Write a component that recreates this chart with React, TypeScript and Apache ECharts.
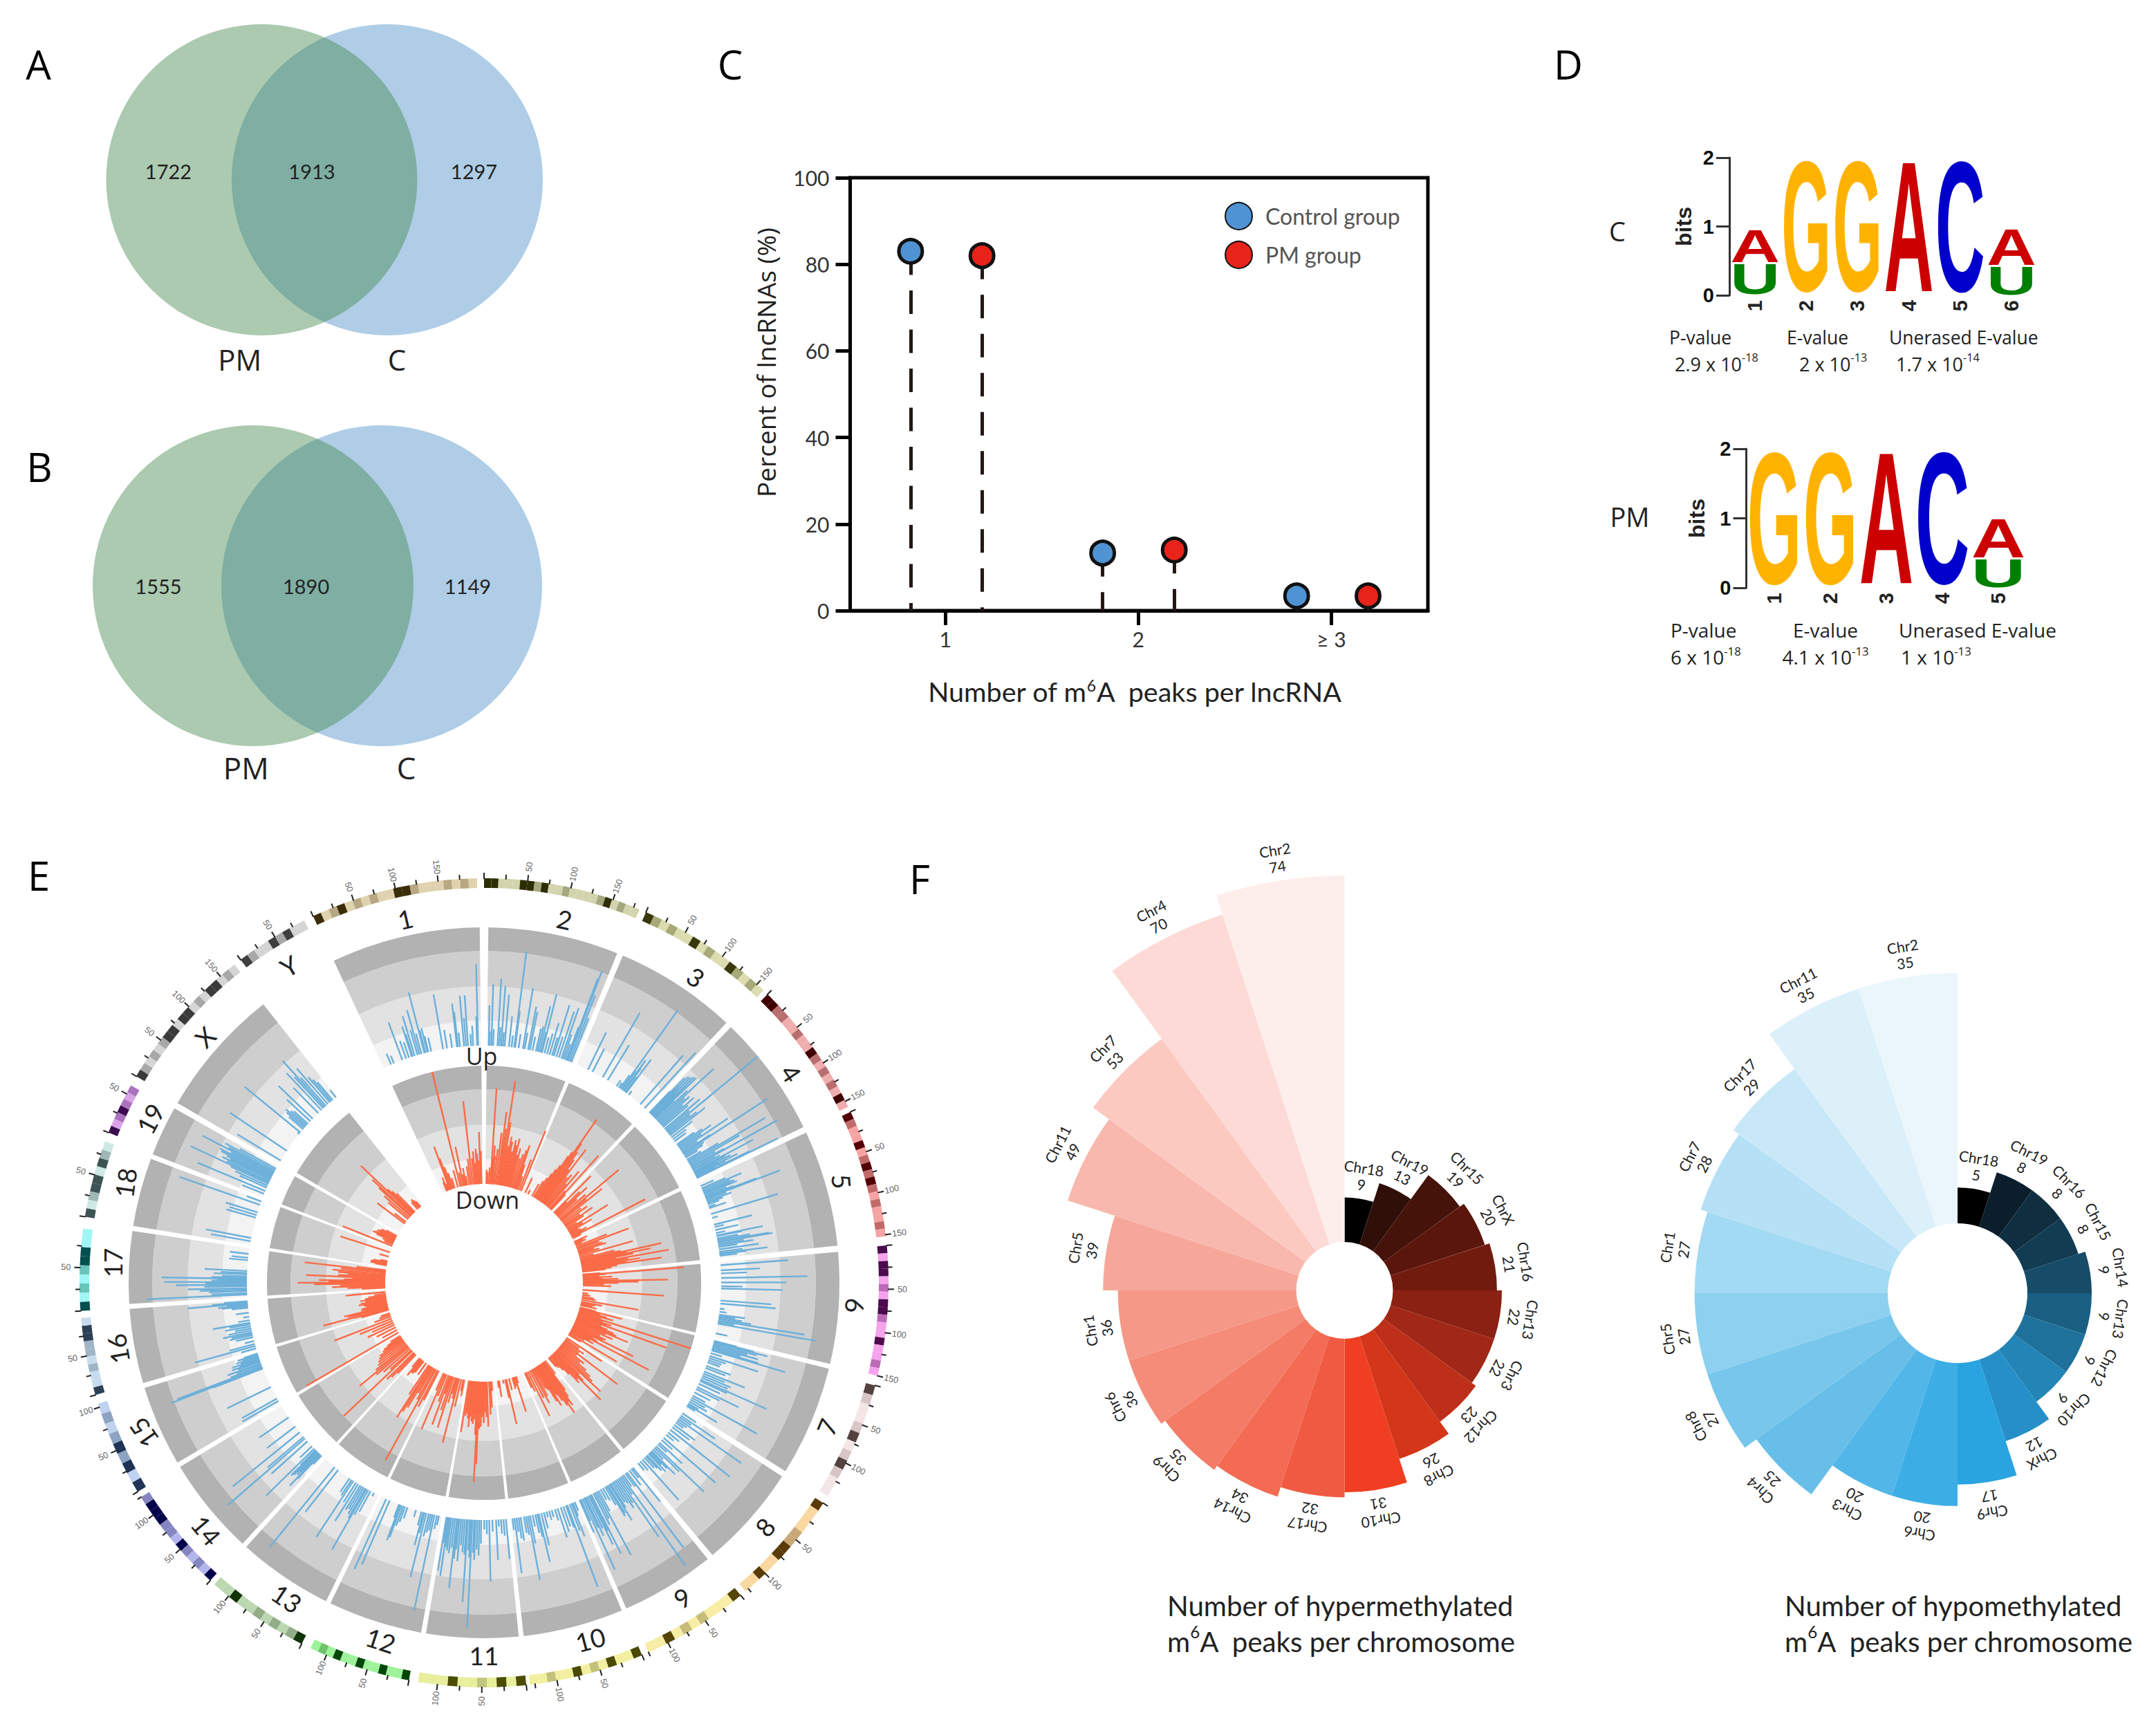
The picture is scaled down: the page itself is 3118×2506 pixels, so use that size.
import React, { useEffect, useRef } from "react";
import * as echarts from "echarts";

const RAD = Math.PI / 180;
const LATO = "Lato, Carlito, sans-serif";
const OPEN = '"Open Sans", sans-serif';
const LIB = '"Liberation Sans", Arial, sans-serif';

// ---------- Panels A, B
const vennALabels = ["1722", "1913", "1297"];
const vennBLabels = ["1555", "1890", "1149"];
const vennSets = ["PM", "C"];
const panelLetters = ["A", "B", "C", "D", "E", "F"];

// ---------- Panel C
const peakCategories = ["1", "2", "≥ 3"];
const controlX = [0.82, 1.815, 2.82];
const pmX = [1.19, 2.186, 3.19];
const controlPercent = [83, 13.3, 3.4];
const pmPercent = [82, 14, 3.4];

// ---------- Panel D
const logoCColumns = ["1", "2", "3", "4", "5", "6"];
const logoCLetters = ["U", "A", "G", "G", "A", "C", "U", "A"];
const logoCColumnOf = [0, 0, 1, 2, 3, 4, 5, 5];
const logoCBottom = [0, 0.47, 0, 0, 0, 0, 0, 0.42];
const logoCTop = [0.47, 0.97, 2, 2, 2, 2, 0.42, 0.97];
const logoPMColumns = ["1", "2", "3", "4", "5"];
const logoPMLetters = ["G", "G", "A", "C", "U", "A"];
const logoPMColumnOf = [0, 1, 2, 3, 4, 4];
const logoPMBottom = [0, 0, 0, 0, 0, 0.42];
const logoPMTop = [2, 2, 2, 2, 0.42, 1];

// ---------- Panel E
const trackNames = ["1","2","3","4","5","6","7","8","9","10","11","12","13","14","15","16","17","18","19","X"];
const trackStart = [335,0.7,23,44,65,85,104,123,141,157.2,174.4,190.2,206.4,222.8,239.6,253.6,266.6,279.2,291.2,300.4];
const trackEnd = [359.3,22,43,64,84,103.2,122,140,156.4,173.6,189.4,205.6,222,238.8,252.8,265.8,278.4,290.4,299.4,321.6];
const labelRotation = [-13,13,35,56,85,95,-67,-49,-32,-15,0,18,34,50,-125,-100,-90,-82,-62,-45,-30];
const labelAngle = [347.8,12.5,34.7,55.7,74.2,93.5,112.8,131,147.8,163.4,180,196.1,212,228.3,246.2,259.8,273.1,285.6,296.2,311.4,328.4];
const ideoNames = [...trackNames, "Y"];
const ideoStart = [335,0,23.6,44.5,65,84.7,104.7,123,140.6,157,174,190.7,206.8,222.6,238.9,253.9,266,279.4,291.8,300.7,323];
const ideoEnd = [359,22.6,43.7,64.2,83.4,103.3,121.8,139.7,156,173.5,189.4,205.4,221.8,238,252.6,265,277.7,290.5,299.2,321.9,333.6];
const chrLengthMb = [195,182,160,157,152,150,145,129,125,131,122,120,121,125,104,98,95,91,61,171,91];
const ideoLight = ["#e0d2ae","#d2d4ad","#dcdcb0","#f0adad","#f7a3a3","#f5a3ec","#f5e6e6","#f8d7a0","#f7eda5","#f2f0a0","#e8ee9c","#9ef29a","#bcd8b0","#b5b5ee","#bfd3f0","#c6dcee","#a0f5f5","#cde9e6","#dba2e9","#d5d5d5","#d5d5d5"];
const ideoMid = ["#b7a883","#a5a77f","#a8a978","#b86e6e","#c26a6a","#bc6ab8","#d8c5c5","#c9a878","#c7bd7a","#c4c27a","#c1c77c","#6fc46b","#93ad88","#8585c0","#8da3c2","#9fb5c8","#68c4bc","#9fb8b5","#ab72be","#a8a8a8","#a8a8a8"];
const ideoDark = ["#3b2d08","#2e2e05","#38380a","#3f0000","#520006","#4d0a4d","#54423f","#5a3a05","#544505","#4a4a05","#4b4d04","#04460a","#0f3305","#04044a","#1f3355","#2c4055","#045050","#3d5454","#3b0a50","#3a3a3a","#3f3f3f"];
const ideoBands = [
  "dlmdlmlmllddmlllmlml","ddlllddmdllmllllmdlmll","dmlmlldlmlldmlml","ddmmllmlldmlmlmldl","dmlldlmdmdmlmllml","dlddlmlddmlldllml","dmllmdlmdmll",
  "dlllmmddlldll","dlllmlmldll","dlldlmldllmll","dldlmlldlll","dlldlldlldlml","dmlmlmlldll","dlmlmdlmmdddm","dldmdmlml","dllmlmmddl","dlmlmddll","dlmddldml","dlmdmlm","dmlmlmddlddlmlddlml","dmlldmdll",
];
const UP_BASE = "#6cb0da";
const DOWN_BASE = "#fb6b47";
const trackBandTop = [21, 50, 80, 100];
const trackBandColor = ["#f3f3f3", "#e2e2e2", "#cecece", "#b2b2b2"];

const upChr1 = [[8,10],[11,7],[20,34],[24,16],[27,14],[30,27],[31,20],[33,35],[36,22],[38,39],[40,18],[43,53],[44,20],[46,21],[47,14],[50,12],[62,47],[66,16],[71,12],[76,37],[77,30],[79,12],[83,43],[85,24],[87,43],[90,10],[92,17],[96,25],[97,69]];
const upChr2 = [[2,34],[3,12],[5,52],[7,14],[12,57],[14,16],[16,51],[18,12],[20,44],[25,26],[28,10],[31,82],[32,31],[36,12],[41,52],[43,14],[47,37],[49,33],[52,12],[56,20],[58,22],[60,40],[62,18],[63,51],[66,14],[69,18],[72,28],[75,16],[77,45],[80,18],[83,41],[86,45],[88,22],[90,14],[92,30],[93,74],[94,81],[96,60],[98,40]];
const upChr3 = [[15,35],[21,22],[35,63],[42,35],[55,6],[58,5],[60,14],[62,82],[63,20],[65,32],[66,24],[68,16],[69,35],[73,4],[91,55],[98,64]];
const upChr4 = [[1,25],[2,42],[3,30],[4,45],[5,32],[6,46],[7,28],[8,48],[9,38],[10,49],[11,22],[13,36],[15,65],[17,30],[19,34],[21,25],[23,36],[25,28],[28,39],[30,26],[32,100],[34,24],[36,30],[38,38],[41,22],[44,14],[47,12],[52,18],[54,25],[56,33],[58,22],[60,48],[62,16],[64,28],[65,85],[67,20],[69,18],[71,12],[74,14],[76,30],[78,75],[80,49],[82,24],[84,32],[85,83],[87,22],[88,26],[90,57],[91,30],[92,20],[93,34],[94,22],[95,40],[96,28],[97,18],[98,50],[99,76]];
const upChr5 = [[5,12],[8,22],[10,36],[12,25],[14,28],[15,24],[16,30],[18,20],[20,26],[21,46],[22,67],[24,18],[26,22],[28,14],[30,10],[33,6],[35,15],[43,59],[48,5],[57,33],[60,8],[64,20],[68,8],[71,40],[72,22],[75,18],[77,28],[79,44],[80,47],[82,22],[84,30],[86,16],[89,34],[92,20],[94,41],[95,23],[97,15]];
const upChr6 = [[4,57],[11,33],[15,22],[21,73],[27,55],[32,18],[35,52],[51,43],[55,47],[62,4],[66,6],[70,22],[72,14],[74,20],[76,28],[78,74],[80,14],[82,84],[95,10]];
const upChr7 = [[1,20],[2,35],[3,47],[5,38],[7,30],[9,40],[11,25],[13,41],[14,65],[18,10],[22,43],[25,15],[28,12],[31,11],[36,22],[39,18],[44,37],[47,20],[50,26],[53,24],[56,61],[58,25],[62,20],[67,39],[70,22],[75,15],[80,12],[83,63],[86,14],[89,17],[92,10],[94,29],[96,8]];
const upChr8 = [[2,14],[6,35],[9,12],[12,65],[15,10],[18,8],[22,22],[26,18],[31,64],[36,12],[40,8],[46,58],[50,12],[55,26],[58,10],[62,56],[65,29],[68,12],[71,28],[73,20],[75,14],[77,21],[80,18],[82,14],[85,12],[89,46],[93,10],[97,8]];
const upChr9 = [[1,37],[4,10],[8,16],[13,80],[16,14],[20,12],[23,93],[26,18],[29,60],[32,24],[35,28],[38,22],[41,20],[44,24],[46,36],[49,28],[51,30],[54,18],[58,12],[62,10],[66,20],[69,61],[72,25],[75,30],[79,56],[81,34],[83,46],[86,30],[89,36],[91,28],[94,66],[97,20],[99,30]];
const upChr10 = [[2,8],[5,12],[7,30],[10,24],[14,74],[16,20],[20,18],[24,22],[29,26],[33,10],[38,6],[42,8],[46,5],[50,14],[54,28],[58,42],[60,20],[63,16],[67,10],[71,24],[74,55],[77,16],[80,14],[85,20],[88,18],[91,12],[94,47],[97,10]];
const upChr11 = [[2,34],[6,14],[10,12],[14,6],[18,34],[24,10],[29,52],[33,12],[37,8],[42,20],[45,30],[48,25],[51,34],[53,28],[56,92],[58,32],[60,26],[63,70],[65,30],[68,28],[71,22],[74,36],[77,26],[79,34],[81,59],[84,25],[87,30],[90,28],[92,25],[94,50],[96,22],[98,46]];
const upChr12 = [[5,8],[8,12],[12,83],[15,14],[18,16],[21,20],[25,56],[28,18],[30,29],[33,12],[42,6],[56,10],[60,14],[63,18],[66,29],[68,32],[70,12],[86,59],[92,65]];
const upChr13 = [[8,3],[14,20],[18,24],[21,59],[23,29],[26,26],[29,22],[32,24],[36,37],[40,20],[45,57],[48,16],[52,14],[74,45],[81,87]];
const upChr14 = [[3,10],[5,28],[6,37],[8,22],[9,26],[11,24],[12,28],[13,22],[14,30],[15,18],[18,57],[23,14],[33,41],[39,86],[42,40],[51,73],[62,30],[79,30]];
const upChr15 = [[4,35],[9,34],[33,41],[70,45],[71,83],[73,77],[75,28],[78,22],[80,30],[83,20],[85,25],[87,18],[89,24],[91,16],[93,20],[95,14],[97,18],[99,12]];
const upChr16 = [[3,13],[8,53],[12,22],[18,8],[26,15],[30,20],[33,18],[36,25],[40,20],[44,14],[48,22],[52,18],[55,32],[60,10],[67,5],[75,11],[85,14],[88,22],[90,25],[92,18],[94,51],[96,30],[98,20]];
const upChr17 = [[5,85],[8,30],[12,32],[15,40],[18,50],[22,36],[25,60],[28,35],[30,70],[33,30],[35,25],[37,72],[39,30],[42,21],[46,28],[49,22],[53,36],[75,16],[80,14],[88,16]];
const upChr18 = [[8,34],[15,39],[60,26],[66,24],[72,28],[89,72],[97,13]];
const upChr19 = [[10,20],[19,62],[30,25],[36,30],[42,35],[46,73],[50,40],[55,45],[58,38],[62,42],[66,48],[70,50],[74,40],[78,68],[82,44],[87,48],[92,35]];
const upChrX = [[3,43],[16,58],[40,2],[42,61],[47,16],[49,20],[51,22],[53,18],[55,16],[59,27],[63,40],[72,30],[77,43],[80,36],[82,53],[84,32],[87,40],[90,28],[92,24],[94,20],[99,8]];

const downChr1 = [[12,8],[14,12],[17,6],[20,39],[22,28],[25,20],[28,14],[32,9],[40,15],[46,100],[50,12],[54,34],[57,10],[60,15],[63,8],[68,16],[72,22],[76,71],[80,22],[83,28],[85,18],[88,30],[90,26],[92,20],[95,44],[97,28]];
const downChr2 = [[3,12],[6,10],[10,14],[14,81],[16,22],[18,33],[20,24],[24,30],[28,44],[32,62],[35,48],[38,89],[41,54],[44,34],[47,42],[50,38],[53,30],[56,40],[59,36],[62,42],[65,28],[68,34],[72,26],[76,30],[80,34],[83,39],[86,22],[90,12],[95,28],[100,55]];
const downChr3 = [[8,14],[17,4],[30,12],[36,16],[40,20],[44,25],[47,30],[50,35],[53,45],[55,50],[58,84],[60,60],[63,52],[66,45],[69,36],[72,58],[76,30],[80,34],[84,25],[87,40],[92,20],[95,61],[98,18]];
const downChr4 = [[5,44],[8,14],[12,28],[16,35],[20,22],[25,30],[30,65],[33,28],[37,44],[42,20],[47,25],[52,16],[56,28],[60,18],[65,10],[69,40],[73,14],[77,22],[80,8],[84,10],[88,15],[90,12],[93,70],[97,8]];
const downChr5 = [[3,12],[6,8],[10,10],[13,6],[18,28],[23,47],[27,20],[32,22],[36,25],[40,14],[44,18],[49,47],[54,12],[58,30],[62,35],[65,70],[68,40],[70,60],[73,45],[75,30],[78,75],[81,40],[84,50],[87,38],[89,68],[92,30],[95,25],[98,20]];
const downChr6 = [[1,15],[3,86],[5,20],[8,14],[12,25],[15,16],[18,30],[22,72],[25,47],[28,30],[32,18],[36,24],[50,69],[60,5],[66,7],[72,10],[76,12],[82,49],[88,18],[92,12],[96,10],[99,14]];
const downChr7 = [[2,14],[4,37],[7,18],[10,24],[13,30],[16,20],[20,100],[23,22],[26,30],[28,26],[31,80],[35,22],[38,28],[41,34],[44,37],[47,48],[50,28],[54,35],[58,24],[62,30],[65,28],[68,57],[71,20],[74,24],[77,74],[80,18],[84,22],[88,14],[93,47],[97,12]];
const downChr8 = [[4,36],[10,14],[15,20],[20,16],[25,58],[30,16],[35,25],[40,22],[45,30],[50,36],[55,40],[59,51],[64,28],[68,34],[71,56],[75,30],[79,33],[83,22],[87,16],[92,12],[96,10]];
const downChr9 = [[6,14],[12,30],[16,36],[20,44],[24,40],[27,50],[31,42],[35,36],[38,30],[41,28],[44,39],[48,34],[52,22],[57,20],[63,26],[68,32],[75,26],[83,42],[90,18],[95,14]];
const downChr10 = [[24,6],[29,31],[34,8],[38,10],[50,10],[60,39],[64,16],[72,3],[86,14],[90,6]];
const downChr11 = [[8,8],[13,22],[18,28],[26,38],[30,30],[34,26],[38,35],[42,30],[46,38],[50,40],[54,70],[57,85],[60,45],[64,32],[68,36],[72,34],[76,30],[79,39],[83,32],[87,28],[91,30],[96,44]];
const downChr12 = [[8,14],[12,10],[20,24],[28,56],[33,18],[38,14],[42,22],[49,45],[55,30],[60,16],[64,44],[70,24],[78,20],[84,51],[90,16]];
const downChr13 = [[5,28],[10,35],[17,88],[22,30],[28,25],[33,40],[38,45],[42,52],[48,30],[60,12],[72,12],[76,14],[81,14],[85,18],[90,10]];
const downChr14 = [[5,22],[10,28],[15,32],[23,80],[28,24],[35,30],[42,36],[47,53],[52,34],[58,30],[64,28],[70,26],[75,24],[80,20],[84,18],[88,14],[93,10]];
const downChr15 = [[2,90],[15,14],[28,18],[40,25],[50,20],[60,30],[70,52],[80,15],[88,10],[95,8]];
const downChr16 = [[5,24],[10,30],[12,57],[18,35],[23,38],[27,20],[30,23],[35,22],[40,18],[45,20],[50,24],[55,22],[60,18],[65,22],[70,18],[75,15],[82,10],[91,34]];
const downChr17 = [[5,20],[10,32],[15,45],[20,38],[25,60],[29,74],[33,48],[37,56],[41,35],[45,28],[50,67],[55,40],[60,32],[65,40],[71,45],[78,38],[84,69],[90,25]];
const downChr18 = [[8,10],[12,14],[18,14],[24,12],[30,6],[55,8],[78,44]];
const downChr19 = [[8,45],[20,8],[30,10],[40,16],[46,20],[52,18],[58,15],[64,17],[70,15],[78,14],[85,10]];
const downChrX = [[30,29],[35,12],[45,22],[50,28],[55,36],[58,45],[62,60],[65,30],[68,26],[72,22],[83,8],[87,10],[90,8],[93,6]];

const upBars = [upChr1,upChr2,upChr3,upChr4,upChr5,upChr6,upChr7,upChr8,upChr9,upChr10,upChr11,upChr12,upChr13,upChr14,upChr15,upChr16,upChr17,upChr18,upChr19,upChrX];
const downBars = [downChr1,downChr2,downChr3,downChr4,downChr5,downChr6,downChr7,downChr8,downChr9,downChr10,downChr11,downChr12,downChr13,downChr14,downChr15,downChr16,downChr17,downChr18,downChr19,downChrX];

// ---------- Panel F
const hyperChr = ["Chr18","Chr19","Chr15","ChrX","Chr16","Chr13","Chr3","Chr12","Chr8","Chr10","Chr17","Chr14","Chr9","Chr6","Chr1","Chr5","Chr11","Chr7","Chr4","Chr2"];
const hyperCount = [9,13,19,20,21,22,22,23,26,31,32,34,35,36,36,39,49,53,70,74];
const hyperColor = ["#000000","#2f0f08","#451309","#5a160b","#711b0e","#8a2113","#a12716","#be2f19","#d33619","#ef3e22","#f05a42","#f26b52","#f47c66","#f48c79","#f69888","#f7a79a","#f9b8ae","#fcc9c1","#fddad5","#feeeeb"];
const hypoChr = ["Chr18","Chr19","Chr16","Chr15","Chr14","Chr13","Chr12","Chr10","ChrX","Chr9","Chr6","Chr3","Chr4","Chr8","Chr5","Chr1","Chr7","Chr17","Chr11","Chr2"];
const hypoCount = [5,8,8,8,9,9,9,9,12,17,20,20,25,27,27,27,28,29,35,35];
const hypoColor = ["#000000","#0a1f2b","#0f2f40","#123c52","#164c68","#1a5f82","#1e719a","#2285b5","#268fc8","#29a4e0","#3caee5","#52b6e8","#67bfe9","#78c6ec","#8dd0f0","#a2d9f3","#b5e0f5","#c8e8f8","#dcf0fa","#ebf6fb"];

const E_C = [700, 1855];
const F1_C = [1944.5, 1866];
const F2_C = [2831, 1870];

function txt(x: number, y: number, text: string, size: number, family: string, opts: any = {}) {
  return {
    type: "text", x, y, silent: true, rotation: opts.rotation || 0, z: 20,
    style: {
      text, fill: opts.fill || "#222", align: opts.align || "center", verticalAlign: "middle",
      font: `${opts.weight || "normal"} ${size}px ${family}`, rich: opts.rich, lineHeight: opts.lineHeight,
    },
  };
}

function supRich(size: number, family: string, fill: string) {
  return {
    n: { fontSize: size, fontFamily: family, color: fill, lineHeight: size * 1.25 },
    s: { fontSize: size * 0.6, fontFamily: family, color: fill, lineHeight: size * 0.66, verticalAlign: "top" },
  };
}

function dist(p: number[], c: number[]) {
  return Math.hypot(p[0] - c[0], p[1] - c[1]);
}

function sectorItem(params: any, api: any, fill: string) {
  const cs = params.coordSys;
  const c = [cs.cx, cs.cy];
  const a0 = api.value(2);
  const a1 = api.value(3);
  const r0 = dist(api.coord([api.value(0), a0]), c);
  const r = dist(api.coord([api.value(1), a0]), c);
  return {
    type: "sector",
    shape: { cx: c[0], cy: c[1], r0, r, startAngle: (a0 - 90) * RAD, endAngle: (a1 - 90) * RAD, clockwise: true },
    style: { fill },
  };
}

function trackSeries(polarIndex: number, bars: number[][][], color: string, width: number) {
  const bandData: number[][] = [];
  const bandFill: string[] = [];
  trackNames.forEach((_, i) => {
    trackBandTop.forEach((top, b) => {
      bandData.push([b === 0 ? 0 : trackBandTop[b - 1], top, trackStart[i], trackEnd[i]]);
      bandFill.push(trackBandColor[b]);
    });
  });
  const barData: number[][] = [];
  bars.forEach((list, i) => {
    const span = trackEnd[i] - trackStart[i];
    list.forEach(([pos, h]) => barData.push([h, trackStart[i] + (pos / 100) * span]));
  });
  return [
    {
      type: "custom", coordinateSystem: "polar", polarIndex, silent: true, z: 2, data: bandData,
      encode: { radius: 0, angle: 2 },
      renderItem: (p: any, api: any) => sectorItem(p, api, bandFill[p.dataIndex]),
    },
    {
      type: "custom", coordinateSystem: "polar", polarIndex, silent: true, z: 3, data: barData,
      encode: { radius: 0, angle: 1 },
      renderItem: (_p: any, api: any) => {
        const a = api.value(1);
        const p0 = api.coord([0, a]);
        const p1 = api.coord([api.value(0), a]);
        return {
          type: "line",
          shape: { x1: p0[0], y1: p0[1], x2: p1[0], y2: p1[1] },
          style: { stroke: color, lineWidth: width, fill: null },
        };
      },
    },
  ];
}

function ideogramSeries(polarIndex: number) {
  const segData: number[][] = [];
  const segFill: string[] = [];
  const tickData: number[][] = [];
  const tickMajor: boolean[] = [];
  const tickLabelData: number[][] = [];
  const tickLabelText: string[] = [];
  ideoNames.forEach((_, i) => {
    const bands = ideoBands[i];
    const span = ideoEnd[i] - ideoStart[i];
    for (let k = 0; k < bands.length; k++) {
      segData.push([571, 585, ideoStart[i] + (k / bands.length) * span, ideoStart[i] + ((k + 1) / bands.length) * span]);
      const ch = bands[k];
      segFill.push(ch === "d" ? ideoDark[i] : ch === "m" ? ideoMid[i] : ideoLight[i]);
    }
    for (let mb = 0; mb <= chrLengthMb[i]; mb += 25) {
      const a = ideoStart[i] + (mb / chrLengthMb[i]) * span;
      tickData.push([584, a]);
      tickMajor.push(mb % 50 === 0);
      if (mb > 0 && mb % 50 === 0) {
        tickLabelData.push([605, a]);
        tickLabelText.push(String(mb));
      }
    }
  });
  const nameData = labelAngle.map((a) => [538, a]);
  return [
    {
      type: "custom", coordinateSystem: "polar", polarIndex, silent: true, z: 2, data: segData,
      encode: { radius: 0, angle: 2 },
      renderItem: (p: any, api: any) => sectorItem(p, api, segFill[p.dataIndex]),
    },
    {
      type: "custom", coordinateSystem: "polar", polarIndex, silent: true, z: 3, data: tickData,
      encode: { radius: 0, angle: 1 },
      renderItem: (p: any, api: any) => {
        const r = api.value(0);
        const a = api.value(1);
        const p0 = api.coord([r, a]);
        const p1 = api.coord([r + (tickMajor[p.dataIndex] ? 9 : 7), a]);
        return {
          type: "line", shape: { x1: p0[0], y1: p0[1], x2: p1[0], y2: p1[1] },
          style: { stroke: "#222", lineWidth: 2, fill: null },
        };
      },
    },
    {
      type: "custom", coordinateSystem: "polar", polarIndex, silent: true, z: 3, data: tickLabelData,
      encode: { radius: 0, angle: 1 },
      renderItem: (p: any, api: any) => {
        const a = api.value(1);
        const pt = api.coord([api.value(0), a]);
        const cw = a < 180 ? a - 90 : a - 270;
        return {
          type: "text", x: pt[0], y: pt[1], rotation: -cw * RAD,
          style: { text: tickLabelText[p.dataIndex], fill: "#666", font: `12.5px ${LIB}`, align: "center", verticalAlign: "middle" },
        };
      },
    },
    {
      type: "custom", coordinateSystem: "polar", polarIndex, silent: true, z: 3, data: nameData,
      encode: { radius: 0, angle: 1 },
      renderItem: (p: any, api: any) => {
        const pt = api.coord([api.value(0), api.value(1)]);
        return {
          type: "text", x: pt[0], y: pt[1], rotation: -labelRotation[p.dataIndex] * RAD,
          style: { text: ideoNames[p.dataIndex], fill: "#222", font: `37px ${LATO}`, align: "center", verticalAlign: "middle" },
        };
      },
    },
  ];
}

function rose(center: number[], radius: number[], polarIndex: number, names: string[], counts: number[], colors: string[]) {
  const mid = names.map((_, i) => (i + 0.5) * (360 / names.length));
  return [
    {
      type: "pie", center, radius, roseType: "area", startAngle: 90, clockwise: true, silent: true,
      label: { show: false }, labelLine: { show: false }, emphasis: { disabled: true }, z: 2,
      data: names.map((name, i) => ({ name, value: counts[i], itemStyle: { color: colors[i] } })),
    },
    {
      type: "custom", coordinateSystem: "polar", polarIndex, silent: true, z: 3,
      data: counts.map((v, i) => [v, mid[i]]),
      encode: { radius: 0, angle: 1 },
      renderItem: (p: any, api: any) => {
        const a = api.value(1);
        const pt = api.coord([api.value(0), a]);
        const c = [p.coordSys.cx, p.coordSys.cy];
        const r = dist(pt, c) + 33;
        return {
          type: "text",
          x: c[0] + r * Math.sin(a * RAD), y: c[1] - r * Math.cos(a * RAD), rotation: -a * RAD,
          style: {
            text: `${names[p.dataIndex]}\n${counts[p.dataIndex]}`, fill: "#222", font: `21px ${LATO}`,
            lineHeight: 24, align: "center", verticalAlign: "middle",
          },
        };
      },
    },
  ];
}

function logoSeries(gridIndex: number, columnOf: number[], letters: string[], bottom: number[], top: number[]) {
  const colors: Record<string, string> = { G: "#ffb300", A: "#cc0000", C: "#0000cc", U: "#008000" };
  const widths: Record<string, number> = { G: 77.8, A: 72.2, C: 72.2, U: 72.2 };
  return {
    type: "custom", coordinateSystem: "cartesian2d", xAxisIndex: gridIndex, yAxisIndex: gridIndex, silent: true, z: 3,
    data: letters.map((_, i) => [columnOf[i], bottom[i], top[i]]),
    encode: { x: 0, y: [1, 2] },
    renderItem: (p: any, api: any) => {
      const col = api.value(0);
      const y0 = api.coord([col, api.value(1)]);
      const y1 = api.coord([col, api.value(2)]);
      const band = api.size([1, 0])[0];
      const letter = letters[p.dataIndex];
      return {
        type: "text", x: y0[0], y: (y0[1] + y1[1]) / 2,
        scaleX: (band * 0.97) / widths[letter], scaleY: (y0[1] - y1[1]) / 74,
        style: { text: letter, fill: colors[letter], font: `bold 100px ${LIB}`, align: "center", verticalAlign: "middle" },
      };
    },
  };
}

function logoAxes(gridIndex: number, categories: string[], nameGap: number) {
  return {
    x: {
      type: "category", gridIndex, data: categories, axisLine: { show: false }, axisTick: { show: false },
      axisLabel: { rotate: 90, margin: 7, color: "#222", fontFamily: LIB, fontWeight: "bold", fontSize: 29 },
    },
    y: {
      type: "value", gridIndex, min: 0, max: 2, interval: 1, name: "bits", nameLocation: "middle", nameGap,
      nameTextStyle: { color: "#222", fontFamily: LIB, fontWeight: "bold", fontSize: 32 },
      axisLine: { show: true, lineStyle: { color: "#333", width: 3 } },
      axisTick: { show: true, length: 19, lineStyle: { color: "#333", width: 3 } },
      axisLabel: { margin: 22, color: "#111", fontFamily: LIB, fontWeight: "bold", fontSize: 29 },
      splitLine: { show: false },
    },
  };
}

function buildGraphic() {
  const g: any[] = [];
  const BLUE = "#afcde6";
  const GREEN = "#448a50";
  const venn = (cxG: number, cxB: number, cy: number, r: number) => {
    g.push({ type: "circle", silent: true, z: 1, shape: { cx: cxB, cy, r }, style: { fill: BLUE } });
    g.push({ type: "circle", silent: true, z: 2, shape: { cx: cxG, cy, r }, style: { fill: GREEN, opacity: 0.45 } });
  };
  venn(378.5, 560, 260, 225);
  venn(366, 552, 847, 232);
  [243.5, 451, 685.5].forEach((x, i) => g.push(txt(x, 247, vennALabels[i], 29, LATO)));
  [229, 442.6, 676.5].forEach((x, i) => g.push(txt(x, 847, vennBLabels[i], 29, LATO)));
  g.push(txt(346.7, 519, vennSets[0], 42, OPEN), txt(574, 519, vennSets[1], 42, OPEN));
  g.push(txt(355.7, 1110, vennSets[0], 44, OPEN), txt(587.6, 1110, vennSets[1], 44, OPEN));

  const letterPos = [[55.6, 92], [57, 674], [1056, 92], [2268, 92], [56, 1265], [1330, 1270]];
  panelLetters.forEach((l, i) => g.push(txt(letterPos[i][0], letterPos[i][1], l, 58, OPEN, { fill: "#000" })));

  g.push(txt(2339, 334, "C", 38, OPEN), txt(2357, 747, "PM", 38, OPEN));
  const left = { align: "left" };
  const logoText: [number, number, string, number][] = [
    [2414, 488, "P-value", 26.5], [2584, 488, "E-value", 26.5], [2732, 488, "Unerased E-value", 26.5],
    [2416, 911, "P-value", 28], [2593, 911, "E-value", 28], [2746, 911, "Unerased E-value", 28],
  ];
  logoText.forEach(([x, y, t, s]) => g.push(txt(x, y, t, s, OPEN, left)));
  const logoVal: [number, number, string, string, number][] = [
    [2422, 526, "2.9 x 10", "-18", 27], [2602, 526, "2 x 10", "-13", 27], [2742, 526, "1.7 x 10", "-14", 27],
    [2416, 950, "6 x 10", "-18", 28], [2577.5, 950, "4.1 x 10", "-13", 28], [2749, 950, "1 x 10", "-13", 28],
  ];
  logoVal.forEach(([x, y, a, b, s]) =>
    g.push(txt(x, y, `{n|${a}}{s|${b}}`, s, OPEN, { align: "left", rich: supRich(s, OPEN, "#222") })),
  );

  g.push(txt(696.5, 1527, "Up", 34, OPEN), txt(705, 1735, "Down", 34, OPEN));

  const lines: [number, number, string][] = [
    [1688, 2321, "{n|Number of hypermethylated}"],
    [1688, 2373, "{n|m}{s|6}{n|A  peaks per chromosome}"],
    [2581, 2321, "{n|Number of hypomethylated}"],
    [2581, 2373, "{n|m}{s|6}{n|A  peaks per chromosome}"],
  ];
  lines.forEach(([x, y, t]) => g.push(txt(x, y, t, 40.3, LATO, { align: "left", rich: supRich(40.3, LATO, "#333") })));
  return g;
}

export default function App() {
  const ref = useRef<HTMLDivElement>(null);
  useEffect(() => {
    document.body.style.margin = "0";
    const chart = echarts.init(ref.current!, undefined, { renderer: "svg" });
    const logoC = logoAxes(1, logoCColumns, 50);
    const logoP = logoAxes(2, logoPMColumns, 56);
    const hiddenAngle = (polarIndex: number) => ({ polarIndex, show: false, min: 0, max: 360, startAngle: 90, clockwise: true });
    const hiddenRadius = (polarIndex: number, max: number) => ({ polarIndex, show: false, min: 0, max });
    const option: any = {
      animation: false,
      backgroundColor: "#ffffff",
      grid: [
        { left: 1229.5, top: 257, width: 835.5, height: 626, show: true, borderColor: "#000", borderWidth: 5, backgroundColor: "transparent" },
        { left: 2501, top: 228, width: 445, height: 199, show: false },
        { left: 2525.5, top: 649, width: 405, height: 201, show: false },
      ],
      xAxis: [
        {
          type: "value", gridIndex: 0, min: 0.507, max: 3.5, splitLine: { show: false },
          name: "Number of m{s|6}A  peaks per lncRNA", nameLocation: "middle", nameGap: 96,
          nameTextStyle: { color: "#222", fontFamily: LATO, fontSize: 39.5, padding: [0, 12, 0, 0], rich: { s: { fontSize: 23, fontFamily: LATO, color: "#222", lineHeight: 24, verticalAlign: "top" } } },
          axisLine: { show: true, onZero: false, lineStyle: { color: "#000", width: 5 } },
          axisTick: { show: true, length: 21, customValues: [1, 2, 3], lineStyle: { color: "#000", width: 5 } },
          axisLabel: { show: true, customValues: [1, 2, 3], margin: 26, color: "#333", fontFamily: LATO, fontSize: 30, formatter: (v: number) => peakCategories[Math.round(v) - 1] },
        },
        logoC.x,
        logoP.x,
      ],
      yAxis: [
        {
          type: "value", gridIndex: 0, min: 0, max: 100, interval: 20, splitLine: { show: false },
          name: "Percent of lncRNAs (%)", nameLocation: "middle", nameGap: 104,
          nameTextStyle: { color: "#222", fontFamily: OPEN, fontSize: 37, padding: [0, 0, 0, 92] },
          axisLine: { show: true, lineStyle: { color: "#000", width: 5 } },
          axisTick: { show: true, length: 21, lineStyle: { color: "#000", width: 5 } },
          axisLabel: { margin: 30, color: "#333", fontFamily: LATO, fontSize: 30 },
        },
        logoC.y,
        logoP.y,
      ],
      legend: {
        show: true, orient: "vertical", left: 1766, top: 287, itemWidth: 39, itemHeight: 39, itemGap: 15,
        data: ["Control group", "PM group"], selectedMode: false,
        textStyle: { color: "#555", fontFamily: LATO, fontSize: 32, padding: [0, 0, 0, 14] },
      },
      polar: [
        { center: E_C, radius: [343, 514] },
        { center: E_C, radius: [143, 314] },
        { center: E_C, radius: [0, 620] },
        { center: F1_C, radius: [70, 600] },
        { center: F2_C, radius: [101, 463] },
      ],
      angleAxis: [hiddenAngle(0), hiddenAngle(1), hiddenAngle(2), hiddenAngle(3), hiddenAngle(4)],
      radiusAxis: [hiddenRadius(0, 100), hiddenRadius(1, 100), hiddenRadius(2, 620), hiddenRadius(3, 74), hiddenRadius(4, 35)],
      series: [
        ...[controlX, pmX].map((xs, k) => ({
          type: "scatter", xAxisIndex: 0, yAxisIndex: 0, data: xs.map((x, i) => [x, k ? pmPercent[i] : controlPercent[i]]),
          name: k ? "stems-pm" : "stems-control", symbolSize: 0, z: 1, silent: true,
          markLine: {
            silent: true, symbol: "none", label: { show: false }, animation: false,
            lineStyle: { color: "#231815", width: 5, type: [34, 22.5] },
            data: xs.map((x, i) => [{ coord: [x, k ? pmPercent[i] : controlPercent[i]] }, { coord: [x, 0] }]),
          },
        })),
        {
          type: "scatter", name: "Control group", xAxisIndex: 0, yAxisIndex: 0, symbolSize: 34, z: 5, silent: true,
          itemStyle: { color: "#4f93d3", borderColor: "#111", borderWidth: 5, opacity: 1 },
          data: controlX.map((x, i) => [x, controlPercent[i]]),
        },
        {
          type: "scatter", name: "PM group", xAxisIndex: 0, yAxisIndex: 0, symbolSize: 34, z: 5, silent: true,
          itemStyle: { color: "#e8231a", borderColor: "#111", borderWidth: 5, opacity: 1 },
          data: pmX.map((x, i) => [x, pmPercent[i]]),
        },
        logoSeries(1, logoCColumnOf, logoCLetters, logoCBottom, logoCTop),
        logoSeries(2, logoPMColumnOf, logoPMLetters, logoPMBottom, logoPMTop),
        ...trackSeries(0, upBars, UP_BASE, 2.4),
        ...trackSeries(1, downBars, DOWN_BASE, 2.4),
        ...ideogramSeries(2),
        ...rose(F1_C, [70, 600], 3, hyperChr, hyperCount, hyperColor),
        ...rose(F2_C, [101, 463], 4, hypoChr, hypoCount, hypoColor),
      ],
      graphic: buildGraphic(),
    };
    chart.setOption(option);
    return () => chart.dispose();
  }, []);
  return <div ref={ref} style={{ position: "absolute", left: 0, top: 0, width: 3118, height: 2506 }} />;
}
